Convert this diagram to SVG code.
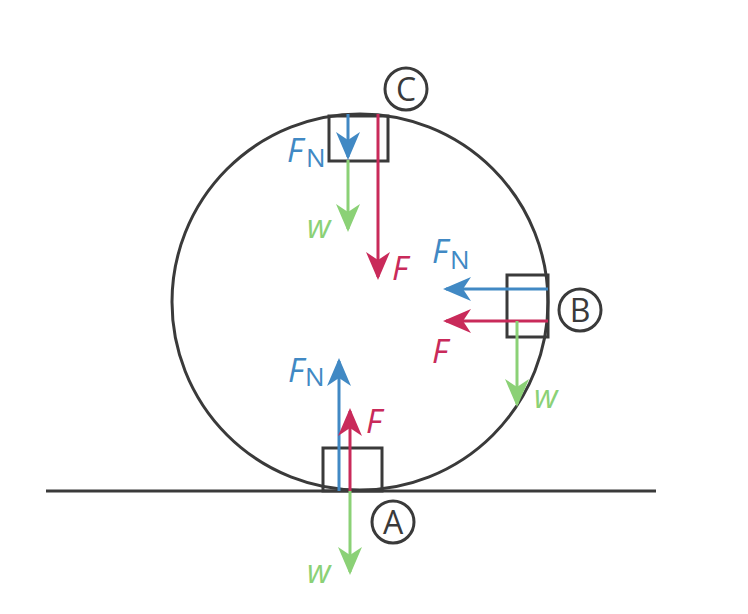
<svg xmlns="http://www.w3.org/2000/svg" width="748" height="614" viewBox="0 0 748 614">
<style>
.k{fill:none;stroke:#3a3a3a;stroke-width:3}
.bl{stroke:#4189c4;stroke-width:3;fill:none}
.rd{stroke:#c92a5a;stroke-width:3;fill:none}
.gr{stroke:#8bd176;stroke-width:3;fill:none}
.lab{font-family:"Open Sans","Noto Sans",sans-serif;font-style:italic;font-size:33px}
.sub{font-family:"Open Sans","Noto Sans",sans-serif;font-style:normal;font-size:26px}
.pt{font-family:"Open Sans","Noto Sans",sans-serif;font-size:32px;fill:#3a3a3a;text-anchor:middle}
</style>
<defs>
<marker id="hb" viewBox="-26 -13 30 26" refX="0" refY="0" markerWidth="30" markerHeight="26" markerUnits="userSpaceOnUse" orient="auto"><path d="M3,0 L-25,-12 L-17,0 L-25,12 Z" fill="#4189c4"/></marker>
<marker id="hr" viewBox="-26 -13 30 26" refX="0" refY="0" markerWidth="30" markerHeight="26" markerUnits="userSpaceOnUse" orient="auto"><path d="M3,0 L-25,-12 L-17,0 L-25,12 Z" fill="#c92a5a"/></marker>
<marker id="hg" viewBox="-26 -13 30 26" refX="0" refY="0" markerWidth="30" markerHeight="26" markerUnits="userSpaceOnUse" orient="auto"><path d="M3,0 L-25,-12 L-17,0 L-25,12 Z" fill="#8bd176"/></marker>
</defs>
<g id="ground"><line class="k" x1="46" y1="491" x2="656" y2="491"/></g>
<g id="loop"><circle class="k" cx="360" cy="302" r="188"/></g>
<g id="blockA"><rect class="k" x="323" y="448" width="59" height="43"/></g>
<g id="blockB"><rect class="k" x="507" y="275" width="41" height="62"/></g>
<g id="blockC"><rect class="k" x="329" y="116" width="59" height="45"/></g>
<g id="connectors">
<line class="bl" x1="339" y1="491" x2="339" y2="361" marker-end="url(#hb)"/>
<line class="rd" x1="350" y1="491" x2="350" y2="411" marker-end="url(#hr)"/>
<line class="gr" x1="350" y1="491" x2="350" y2="572" marker-end="url(#hg)"/>
<line class="bl" x1="548" y1="289" x2="446" y2="289" marker-end="url(#hb)"/>
<line class="rd" x1="548" y1="321" x2="446" y2="321" marker-end="url(#hr)"/>
<line class="gr" x1="517" y1="321" x2="517" y2="404" marker-end="url(#hg)"/>
<line class="bl" x1="348" y1="114" x2="348" y2="157" marker-end="url(#hb)"/>
<line class="gr" x1="348" y1="160" x2="348" y2="229" marker-end="url(#hg)"/>
<line class="rd" x1="378" y1="114" x2="378" y2="277" marker-end="url(#hr)"/>
</g>
<g id="labelsA">
<text class="lab" x="288" y="382" fill="#4189c4">F<tspan class="sub" x="305" y="386">N</tspan></text>
<text class="lab" x="366" y="433" fill="#c92a5a">F</text>
<text class="lab" x="307" y="583" fill="#8bd176">w</text>
</g>
<g id="labelsB">
<text class="lab" x="432" y="263" fill="#4189c4">F<tspan class="sub" x="450" y="269">N</tspan></text>
<text class="lab" x="432" y="363" fill="#c92a5a">F</text>
<text class="lab" x="534" y="408" fill="#8bd176">w</text>
</g>
<g id="labelsC">
<text class="lab" x="287" y="162" fill="#4189c4">F<tspan class="sub" x="306" y="167">N</tspan></text>
<text class="lab" x="307" y="238" fill="#8bd176">w</text>
<text class="lab" x="392" y="280" fill="#c92a5a">F</text>
</g>
<g id="pointA"><circle class="k" cx="393" cy="522" r="21"/><text class="pt" x="393" y="534">A</text></g>
<g id="pointB"><circle class="k" cx="580" cy="310" r="21"/><text class="pt" x="580" y="322">B</text></g>
<g id="pointC"><circle class="k" cx="406" cy="89" r="21"/><text class="pt" x="406" y="101">C</text></g>
</svg>
